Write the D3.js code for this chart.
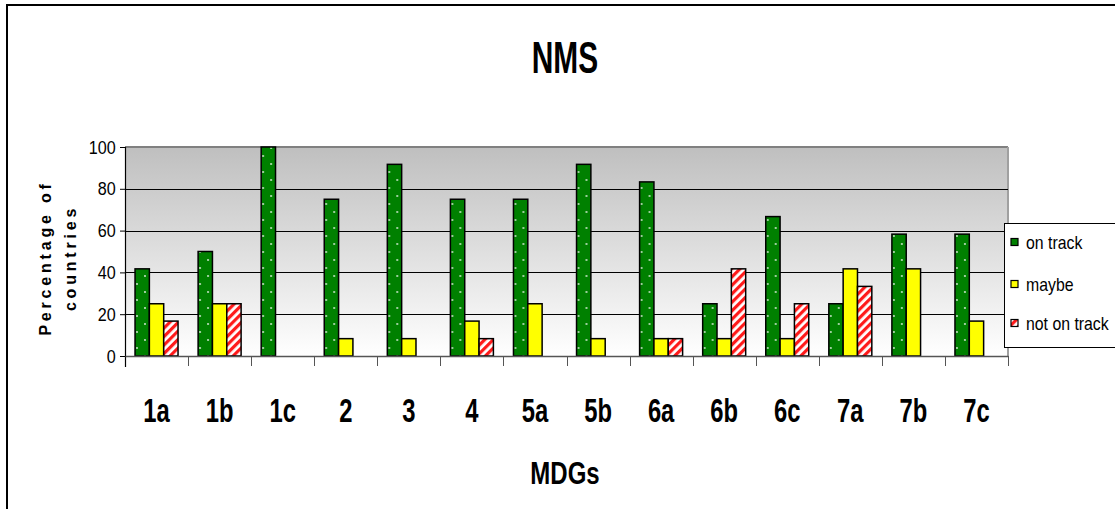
<!DOCTYPE html>
<html>
<head>
<meta charset="utf-8">
<script src="https://cdn.jsdelivr.net/npm/d3@7"></script>
<style>
  html, body { margin: 0; padding: 0; background: #fff; }
  svg { display: block; font-family: "Liberation Sans", Arial, sans-serif; }
</style>
</head>
<body>
<svg id="chart" width="1115" height="509"></svg>
<script>
// MDG targets and share of countries (%) in each status
const categories = ["1a", "1b", "1c", "2", "3", "4", "5a", "5b", "6a", "6b", "6c", "7a", "7b", "7c"];
const seriesNames = ["on track", "maybe", "not on track"];
const onTrack    = [41.7, 50, 100, 75, 91.7, 75, 75, 91.7, 83.3, 25, 66.7, 25, 58.3, 58.3];
const maybe      = [25, 25, 0, 8.3, 8.3, 16.7, 25, 8.3, 8.3, 8.3, 8.3, 41.7, 41.7, 16.7];
const notOnTrack = [16.7, 25, 0, 0, 0, 8.3, 0, 0, 8.3, 41.7, 25, 33.3, 0, 0];
const yTicks = [0, 20, 40, 60, 80, 100];

const seriesValues = [onTrack, maybe, notOnTrack];

const svg = d3.select("#chart");
const W = 1115, H = 509;
const plot = { left: 125, right: 1008, top: 147, bottom: 356 };

// ---- defs: background gradient and fill patterns ----
const defs = svg.append("defs");
const grad = defs.append("linearGradient")
  .attr("id", "plotBg").attr("x1", 0).attr("y1", 0).attr("x2", 0).attr("y2", 1);
grad.append("stop").attr("offset", "0%").attr("stop-color", "#bfbfbf");
grad.append("stop").attr("offset", "100%").attr("stop-color", "#ffffff");

const dots = defs.append("pattern")
  .attr("id", "dotsGreen").attr("patternUnits", "userSpaceOnUse")
  .attr("width", 16).attr("height", 16);
dots.append("rect").attr("width", 16).attr("height", 16).attr("fill", "#008000");
dots.append("circle").attr("cx", 4).attr("cy", 4).attr("r", 0.9).attr("fill", "#e8f4e8");
dots.append("circle").attr("cx", 12).attr("cy", 12).attr("r", 0.9).attr("fill", "#e8f4e8");

const stripes = defs.append("pattern")
  .attr("id", "stripesRed").attr("patternUnits", "userSpaceOnUse")
  .attr("width", 6).attr("height", 6)
  .attr("patternTransform", "rotate(45)");
stripes.append("rect").attr("width", 6).attr("height", 6).attr("fill", "#ffffff");
stripes.append("rect").attr("width", 3.2).attr("height", 6).attr("fill", "#ff1a1a");

const fills = ["url(#dotsGreen)", "#ffff00", "url(#stripesRed)"];

// ---- outer frame ----
svg.append("rect")
  .attr("x", 7).attr("y", 5).attr("width", W + 20).attr("height", H + 20)
  .attr("fill", "#fff").attr("stroke", "#000").attr("stroke-width", 2);

// ---- scales ----
const x = d3.scaleBand().domain(categories).range([plot.left, plot.right]).padding(0);
const groupW = 43;
const xs = d3.scaleBand().domain(seriesNames)
  .range([(x.bandwidth() - groupW) / 2, (x.bandwidth() + groupW) / 2]).padding(0);
const y = d3.scaleLinear().domain([0, 100]).range([plot.bottom, plot.top]);

// ---- plot background ----
svg.append("rect")
  .attr("x", plot.left).attr("y", plot.top)
  .attr("width", plot.right - plot.left).attr("height", plot.bottom - plot.top)
  .attr("fill", "url(#plotBg)");
svg.append("line")
  .attr("x1", plot.left).attr("x2", plot.right).attr("y1", plot.top).attr("y2", plot.top)
  .attr("stroke", "#808080").attr("stroke-width", 2);
svg.append("line")
  .attr("x1", plot.right).attr("x2", plot.right).attr("y1", plot.top).attr("y2", plot.bottom)
  .attr("stroke", "#a0a0a0").attr("stroke-width", 2);

// gridlines
svg.append("g").selectAll("line")
  .data(yTicks.filter(t => t > 0 && t < 100))
  .join("line")
  .attr("x1", plot.left).attr("x2", plot.right)
  .attr("y1", d => Math.round(y(d)) + 0.5).attr("y2", d => Math.round(y(d)) + 0.5)
  .attr("stroke", "#000").attr("stroke-width", 1);

// ---- bars ----
const groups = svg.append("g").selectAll("g")
  .data(categories)
  .join("g")
  .attr("transform", d => `translate(${x(d)},0)`);

groups.selectAll("rect")
  .data((c, i) => seriesNames.map((s, k) => ({ s, k, v: seriesValues[k][i] })).filter(d => d.v > 0))
  .join("rect")
  .attr("x", d => xs(d.s))
  .attr("y", d => y(d.v))
  .attr("width", xs.bandwidth())
  .attr("height", d => y(0) - y(d.v))
  .attr("fill", d => fills[d.k])
  .attr("stroke", "#000")
  .attr("stroke-width", 1.5);

// ---- axes ----
const yAxis = d3.axisLeft(y).tickValues(yTicks).tickSize(5).tickPadding(6);
const gy = svg.append("g").attr("transform", `translate(${plot.left},0)`).call(yAxis);
gy.select(".domain").remove();
gy.selectAll(".tick line").attr("stroke", "#000");
gy.selectAll(".tick text")
  .attr("font-size", 19).attr("fill", "#000")
  .attr("font-family", "'Liberation Sans', Arial, sans-serif")
  .attr("transform", "scale(0.85,1)");
svg.append("line")
  .attr("x1", plot.left + 0.5).attr("x2", plot.left + 0.5)
  .attr("y1", plot.top).attr("y2", plot.bottom + 11)
  .attr("stroke", "#000").attr("stroke-width", 1.2);

const xAxis = d3.axisBottom(x).tickSize(0).tickFormat("");
const gx = svg.append("g").attr("transform", `translate(0,${plot.bottom})`).call(xAxis);
gx.select(".domain").attr("stroke", "#555").attr("stroke-width", 1.5);
// category separators below the axis
svg.append("g").selectAll("line")
  .data(categories.slice(1).concat(["__end"]))
  .join("line")
  .attr("x1", (d, i) => i < categories.length - 1 ? Math.round(x(d)) + 0.5 : plot.right + 0.5)
  .attr("x2", (d, i) => i < categories.length - 1 ? Math.round(x(d)) + 0.5 : plot.right + 0.5)
  .attr("y1", plot.bottom).attr("y2", plot.bottom + 10)
  .attr("stroke", "#555").attr("stroke-width", 1);

// category labels
svg.append("g").selectAll("text")
  .data(categories)
  .join("text")
  .attr("transform", d => `translate(${x(d) + x.bandwidth() / 2},422) scale(0.7,1)`)
  .attr("text-anchor", "middle")
  .attr("font-size", 34).attr("font-weight", "bold")
  .text(d => d);

// ---- titles ----
svg.append("text")
  .attr("transform", "translate(565,73) scale(0.68,1)")
  .attr("text-anchor", "middle")
  .attr("font-size", 44).attr("font-weight", "bold")
  .text("NMS");

svg.append("text")
  .attr("transform", "translate(565,484) scale(0.75,1)")
  .attr("text-anchor", "middle")
  .attr("font-size", 32).attr("font-weight", "bold")
  .text("MDGs");

const yTitle = svg.append("text")
  .attr("transform", "translate(51,258) rotate(-90)")
  .attr("text-anchor", "middle")
  .attr("font-size", 16).attr("font-weight", "bold")
  .attr("letter-spacing", 3.8);
yTitle.append("tspan").attr("x", 0).attr("dy", 0).text("Percentage of");
yTitle.append("tspan").attr("x", 0).attr("dy", 25).text("countries");

// ---- legend ----
const legend = svg.append("g");
legend.append("rect")
  .attr("x", 1004.5).attr("y", 223.5).attr("width", 140).attr("height", 124)
  .attr("fill", "#fff").attr("stroke", "#000").attr("stroke-width", 1);
const legendY = [242, 284, 323];
const items = legend.selectAll("g.item")
  .data(seriesNames)
  .join("g").attr("class", "item")
  .attr("transform", (d, i) => `translate(1011,${legendY[i]})`);
items.append("rect")
  .attr("x", 0).attr("y", -3.5).attr("width", 7).attr("height", 7)
  .attr("fill", (d, i) => fills[i]).attr("stroke", "#000").attr("stroke-width", 1.2);
items.append("text")
  .attr("transform", "translate(15,6.5) scale(0.88,1)")
  .attr("font-size", 18)
  .text(d => d);
</script>
</body>
</html>
